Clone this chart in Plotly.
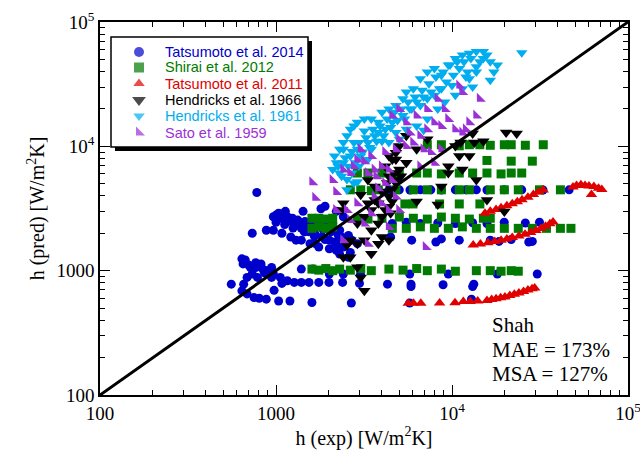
import plotly.graph_objects as go

# ---------------- data (h_exp, h_pred) in W/m2K ----------------
tats2014 = [
    (640,1245),(669,1220),(650,1133),(700,1110),(767,1060),(841,1030),(900,1000),(966,940),(1058,883),(1159,830),
    (1270,805),(733,940),(685,883),(655,779),(640,688),(685,650),(750,607),(803,600),(881,590),(1035,570),
    (1200,570),(1600,555),(2680,550),(557,779),(975,695),(1080,790),(785,883),(860,960),(944,883),(1393,805),
    (1540,805),(1750,805),(2000,805),(2390,805),(2980,790),(4300,779),(5850,745),(8900,770),(13300,779),(13100,745),
    (5850,779),(5750,550),(12900,590),(1393,1030),(1620,1030),(2009,940),(2413,940),(3020,930),(5750,940),(9530,940),
    (18100,940),(30500,940),(881,1000),(944,1060),(822,1133),(767,1160),(716,1060),
    (1035,2900),(1080,2860),(1159,2715),(1240,2640),(1330,2550),(1460,2480),(1600,2395),(1750,2330),(1920,2250),
    (2100,2190),(2300,2115),(966,2715),(1058,2640),(1159,2480),(1270,2330),(1393,2190),(1527,2060),(1673,1950),
    (1833,1865),(2009,1760),(2202,1650),(2413,1550),(2644,1400),(881,2115),(966,2115),(1080,2000),(1213,1865),
    (1393,1760),(1560,1650),(1750,1550),(2009,1500),(2202,1455),(2300,1360),(2580,1283),(733,2000),(1300,1760),
    (1673,1650),(1425,3000),(1800,3150),(1900,3300),(2202,3000),(2413,2715),(2580,1920),(2700,1760),(2900,1650),
    (2360,1865),(2100,2395),(1130,3000),(778,4255),
    (1000,2800),(1100,2750),(1200,2600),(1350,2450),(1500,2350),(1650,2250),(1850,2150),(2050,2050),(2250,1950),
    (1000,2450),(1120,2350),(1250,2200),(1450,2050),(1650,1900),(1900,1780),(2150,1700),(2450,1600),
    (4380,4470),(5020,4470),(5770,4450),(6610,4470),(7580,4470),(8700,4450),(10450,4470),(12000,4470),(13750,4470),
    (15800,4450),(19800,4470),(24900,4470),(32900,4450),(46300,4470),
    (4580,2395),(5500,2450),(6610,2395),(8300,2420),(10450,2395),(13100,2430),(15800,2395),(19800,2450),(26100,2420),
    (31400,2450),
    (5900,1760),(8100,1700),(8700,1800),(11000,1760),(16500,1760),(18500,1720),(21700,1780),(27300,1700),(28600,1720),
    (4480,1865),
]

shirai2012 = [
    (1600,1030),(1750,1010),(1920,1040),(2100,1000),(2300,1030),(2644,1010),(3030,1040),(3480,1000),(4380,1030),
    (5270,1010),(6300,1040),(7240,1000),(8700,1030),(10450,990),(13750,1000),(16500,1000),(19000,990),(21700,1000),
    (23800,990),
    (1600,2640),(1750,2640),(1920,2600),(2100,2640),(2900,2640),(3330,2600),(4000,2640),(5020,2700),(6030,2640),
    (7240,2600),(8700,2700),(10450,2640),(12550,2600),(15070,2640),(16500,2640),
    (1600,2190),(1750,2250),(1920,2190),(2100,2250),(4580,2190),(5500,2190),(6610,2250),(7940,2190),(9530,2190),
    (11450,2250),(13750,2190),(16500,2190),(19830,2190),(23800,2190),(28600,2190),(34400,2190),(41300,2190),
    (47400,2190),
    (2644,4470),(3030,4470),(3480,4400),(3814,4470),(4800,4470),(6030,4470),(7240,4470),(8700,4470),(11000,4470),
    (12550,4470),(16500,4470),(19830,4470),(23800,4470),(31400,4470),(41300,4470),
    (5400,3440),(6000,3440),(8500,3440),(11000,3440),(14400,3440),
    (2900,6100),(3330,6100),(4000,6100),(5020,6000),(6300,6100),(7240,6100),(8700,6000),(11000,6100),(13100,6100),
    (15800,6100),(19000,6000),(21700,6100),(24900,6100),
    (15800,7700),(21700,7600),(28600,7600),
    (7240,10300),(8700,10300),(11000,10100),(12550,10300),(14400,10300),(16500,10200),(19830,10300),(21700,10300),
    (26100,10200),(33000,10300),
]

tats2011 = [
    (5640,548),(6040,548),(6650,548),(8500,550),(10400,552),(11600,565),(12700,565),(14000,570),(15800,575),
    (16800,585),(17800,595),(18900,605),(20000,615),(21300,630),(22600,645),(24000,660),(25500,680),(27000,700),
    (28500,715),(29500,725),
    (13200,1610),(14500,1640),(16000,1680),(17500,1720),(19000,1760),(20500,1800),(22000,1850),(24000,1900),
    (26000,1960),(28000,2030),(30000,2100),(32000,2180),(34000,2280),(36000,2380),(37500,2460),
    (15400,2900),(16500,3000),(17800,3100),(19000,3200),(20500,3320),(22000,3450),(23500,3580),(25000,3720),
    (27000,3900),(29000,4100),(31000,4300),(33000,4450),
    (48700,4700),(51000,4850),(54000,4900),(57000,4850),(60000,4800),(64000,4750),(68000,4600),(71000,4500),
    (62000,4100),
]

hend1966 = [
    (2413,3485),(2360,3075),(3030,4070),(3330,5350),(3640,4760),(4000,4340),(4380,3950),(4580,3600),(4180,3075),
    (4800,7850),(5020,6500),(5130,5740),(4800,5070),(4580,4470),(4380,3270),(3814,2395),(3480,2115),(3176,1760),
    (2900,1650),(2644,1283),(2900,1065),(3030,883),(3176,688),(3480,1365),(3814,1650),(4000,1865),(4380,1760),
    (2413,1283),(2530,1600),(2644,1760),(2900,2395),(3176,2715),(3480,3075),(3814,3485),(5500,7370),(6300,3600),
    (8300,3400),(8700,4760),(9530,6100),(11000,8350),(12550,8350),(13750,5350),(15800,3700),(19830,2990),
    (13400,10720),(15070,11000),(20300,12900),(23300,12700),(13100,12700),(5500,12140),(7240,11400),(11200,10720),
    (4180,6900),(4580,7850),(4380,5740),(4800,8900),(4380,8350),(4700,6100),(4900,5350),(4280,5070),(4480,2900),
    (4000,2715),(3640,3700),(3330,3485),(5020,10070),(6300,9460),(9530,6900),(11450,6500),(10450,10070),
]

hend1961 = [
    (2150,8350),(2202,7370),(2300,9460),(2413,10720),(2530,12140),(2644,13750),(2770,14600),(2900,15600),
    (3176,16600),(3480,16600),(3814,15600),(4000,18800),(4380,20000),(4800,21300),(5260,24100),(5500,27300),
    (6030,29100),(6610,35000),(7240,39700),(7940,42300),(8700,37300),(9530,45000),(10450,50900),(11450,54200),
    (12550,56000),(13750,57800),(15070,57800),(24900,56600),(18100,45000),(16500,34000),(13100,30000),
    (11000,42300),(12000,36100),(10000,30900),(8700,29100),(7940,25700),(7240,24100),(6610,21300),(5760,20000),
    (5260,17700),(4580,15600),(4180,13750),(3640,12140),(3330,10720),(2900,9460),(2644,8350),(2413,7370),
    (2300,6100),(2530,5400),(2770,5070),(2530,4470),(3030,8350),(3480,9460),(4000,11000),(4800,12900),
    (5500,13750),(6300,14600),(7240,16600),(8300,20000),(9100,22700),(10450,25700),(11450,29100),(12550,35000),
    (13750,39700),(14400,47900),(6900,13500),(3176,13300),(2770,10720),(2413,9460),(2100,6500),(3814,12900),
    (4380,10720),(5020,11400),
    (2250,6900),(2470,8100),(2700,9100),(2960,10720),(3250,11700),(3550,13750),(3900,14600),(4280,16600),
    (4700,18800),(5140,20000),(5630,22700),(6170,24900),(6760,28200),(7400,31800),(8100,36100),(8900,39700),
    (9750,45000),(10700,47900),(11700,47900),(12800,50900),(15070,50900),(15800,54200),(17300,39700),(16500,47900),
    (13750,43700),(12250,39700),(10200,37300),(9300,32950),(8500,29100),(7600,27300),(6900,24900),(6300,22700),
    (5900,20000),(5380,16600),(4900,16100),(4480,14200),(4090,12140),(3730,11000),(3410,9800),(3100,9000),
    (2830,7370),(2580,6900),(2360,5740),(2700,6100),(2960,6900),(3330,7850),(2900,5200),
]

sato1959 = [
    (1610,5150),(1673,3850),(2202,4300),(2100,5350),(2413,6500),(2770,6900),(3176,7600),(3480,8350),(3330,6100),
    (3640,6500),(4000,6900),(4380,6500),(4580,5350),(4180,5070),(3814,4600),(3640,3950),(4000,3485),(4380,3075),
    (3480,2900),(3176,2395),(2530,3075),(2900,3485),(2644,2550),(2413,1760),(7100,1550),(4180,9000),(4800,9460),
    (5500,10070),(6030,10720),(5020,11400),(5760,12900),(6610,12140),(7240,13750),(7940,15600),(8700,14600),
    (9530,16600),(10450,13750),(11450,12900),(12550,15600),(13750,17700),(11000,30900),(11450,27300),(14400,24100),
    (8300,24100),(9100,20000),(7240,20000),(6300,17700),(5500,15600),(5020,20000),(4580,17700),(6900,9460),
    (7600,9000),(7940,7370),(8700,9460),(6610,6900),(4800,3950),(5020,3075),(4380,2250),(3330,1650),(2200,3075),
    (2900,7850),(3030,9460),(2644,6100),(3720,5740),(12000,13750),
]

series_names = ["Tatsumoto et al. 2014", "Shirai et al. 2012", "Tatsumoto et al. 2011",
                "Hendricks et al. 1966", "Hendricks et al. 1961", "Sato et al. 1959"]
series_data = [tats2014, shirai2012, tats2011, hend1966, hend1961, sato1959]
series_colors = ["#0000CC", "#007A00", "#E00000", "#000000", "#00AEEF", "#9B30D9"]
series_symbols = ["circle", "square", "triangle-up", "triangle-down", "triangle-down", "triangle-sw"]
series_sizes = [9, 9, 10, 11, 10, 10]

diag = [100, 100000]

tickvals = [100, 1000, 10000, 100000]
ticktext = ["100", "1000", "10<sup>4</sup>", "10<sup>5</sup>"]
annot_lines = ["Shah", "MAE = 173%", "MSA = 127%"]

# ---------------- figure ----------------
W, H = 528.0, 373.0          # plot area size in px
L, T = 100.0, 22.0           # plot area offsets

def px(xp):   # page px -> paper x
    return (xp - L) / W

def py(yp):   # page px -> paper y
    return (T + H - yp) / H

fig = go.Figure()
for name, data, col, sym, sz in zip(series_names, series_data, series_colors, series_symbols, series_sizes):
    fig.add_trace(go.Scatter(
        x=[p[0] for p in data], y=[p[1] for p in data], mode="markers", name=name, showlegend=False,
        marker=dict(symbol=sym, color=col, size=sz, line=dict(width=0)),
    ))

fig.add_trace(go.Scatter(x=diag, y=diag, mode="lines", line=dict(color="black", width=3),
                         showlegend=False, hoverinfo="skip"))

# legend keys (layout, on a hidden overlay axis in paper-pixel units)
row_y = [52, 67.5, 83.5, 100, 116, 132.5]
key_sizes = [10, 10, 10, 12, 10, 10]
fig.add_trace(go.Scatter(
    x=[139 - L] * len(row_y), y=[T + H - r for r in row_y], xaxis="x2", yaxis="y2",
    mode="markers", showlegend=False, hoverinfo="skip",
    marker=dict(symbol=series_symbols, color=series_colors, size=key_sizes, line=dict(width=0)),
))
for name, col, r in zip(series_names, series_colors, row_y):
    fig.add_annotation(xref="paper", yref="paper", x=px(164), y=py(r), xanchor="left", yanchor="middle",
                       text=name, showarrow=False, borderpad=0,
                       font=dict(family="Arial, Liberation Sans, sans-serif", size=14.5, color=col))

axis_common = dict(
    type="log", showline=True, linecolor="black", linewidth=1.5, mirror="allticks",
    ticks="inside", ticklen=10, tickwidth=1, tickcolor="black", showgrid=False, zeroline=False,
    automargin=False, ticklabeloverflow="allow",
    tickfont=dict(family="Liberation Serif", size=19, color="black"),
    minor=dict(ticks="inside", ticklen=5, tickwidth=1, tickcolor="black", dtick="D1", showgrid=False),
)

fig.update_xaxes(range=[2, 5], tickvals=tickvals, ticktext=ticktext,
                 title=dict(text="h (exp) [W/m<sup>2</sup>K]", font=dict(family="Liberation Serif", size=20, color="black"), standoff=8),
                 **axis_common)
fig.update_yaxes(range=[2, 5], tickvals=tickvals, ticktext=ticktext,
                 title=dict(text="h (pred) [W/m<sup>2</sup>K]", font=dict(family="Liberation Serif", size=20, color="black"), standoff=6),
                 **axis_common)

# legend box with drop shadow (below traces; no data lies there)
sh = 4
fig.add_shape(type="rect", xref="paper", yref="paper", x0=px(111 + sh), x1=px(308 + sh),
              y0=py(147 + sh), y1=py(37 + sh), fillcolor="black", line=dict(width=0), layer="below")
fig.add_shape(type="rect", xref="paper", yref="paper", x0=px(111), x1=px(308), y0=py(147), y1=py(37),
              fillcolor="white", line=dict(color="black", width=1.5), layer="below")

for line, yc in zip(annot_lines, [325, 349.5, 374]):
    fig.add_annotation(xref="paper", yref="paper", x=px(491), y=py(yc), xanchor="left", yanchor="middle",
                       text=line, showarrow=False, borderpad=0,
                       font=dict(family="Liberation Serif", size=21, color="black"))

fig.update_layout(
    width=640, height=461,
    margin=dict(l=100, r=12, t=22, b=66, autoexpand=False),
    paper_bgcolor="white", plot_bgcolor="white",
    showlegend=False,
    xaxis2=dict(overlaying="x", range=[0, W], visible=False, fixedrange=True),
    yaxis2=dict(overlaying="y", range=[0, H], visible=False, fixedrange=True),
)

fig.write_html("out.html")
